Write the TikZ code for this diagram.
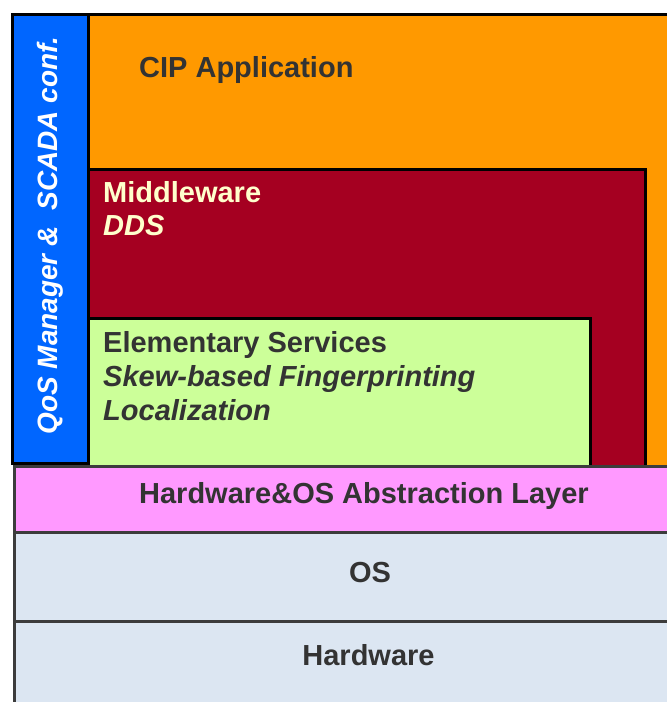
\documentclass[tikz,border=0pt]{standalone}
\usepackage{fontspec}
\setmainfont{Liberation Sans}
\definecolor{qosblue}{HTML}{0066FF}
\definecolor{cipor}{HTML}{FF9900}
\definecolor{mwred}{HTML}{A50021}
\definecolor{esgreen}{HTML}{CCFF99}
\definecolor{halpink}{HTML}{FF99FF}
\definecolor{osgrey}{HTML}{DCE6F2}
\definecolor{txtgrey}{HTML}{333333}
\definecolor{mwtext}{HTML}{FFFFCC}
\definecolor{lowline}{HTML}{3C3C3C}
\tikzset{
  layerbox/.style={draw=black, line width=3pt, anchor=north west, inner sep=0pt},
  lowbox/.style={draw=lowline, line width=3pt, anchor=north west, inner sep=0pt},
  lbl/.style={inner sep=0pt, font=\fontsize{29}{34}\selectfont\bfseries, text=txtgrey},
}
\begin{document}
\begin{tikzpicture}[x=1pt, y=-1pt]
\useasboundingbox (0,0) rectangle (667,702);
\clip (0,0) rectangle (667,702);
% upper stack
\node[layerbox, fill=cipor, minimum width=633pt, minimum height=458pt] (cip) at (87,12.5) {};
\node[layerbox, fill=mwred, minimum width=557pt, minimum height=303pt] (mw) at (87,167.5) {};
\node[layerbox, fill=esgreen, minimum width=502pt, minimum height=153pt] (es) at (87,317) {};
\node[layerbox, fill=qosblue, minimum width=76pt, minimum height=449pt] (qos) at (10.5,12.5) {};
% lower stack
\node[lowbox, fill=halpink, minimum width=708pt, minimum height=66pt] (hal) at (12.5,465) {};
\node[lowbox, fill=osgrey, minimum width=708pt, minimum height=89pt] (os) at (12.5,531) {};
\node[lowbox, fill=osgrey, minimum width=708pt, minimum height=140pt] (hw) at (12.5,620) {};
% labels
\node[lbl, anchor=base west] (cipt) at (139,77) {CIP Application};
\node[lbl, anchor=base west, text=mwtext] (mwt) at (103,202) {Middleware};
\node[lbl, anchor=base west, text=mwtext] (ddst) at (103,235) {\itshape DDS};
\node[lbl, anchor=base west] (est) at (103,352) {Elementary Services};
\node[lbl, anchor=base west] (skt) at (103,386) {\itshape Skew-based Fingerprinting};
\node[lbl, anchor=base west] (loct) at (103,420) {\itshape Localization};
\node[lbl, anchor=base] (halt) at (364,503) {Hardware\&OS Abstraction Layer};
\node[lbl, anchor=base] (ost) at (370,582) {OS};
\node[lbl, anchor=base] (hwt) at (368.5,665) {Hardware};
\node[lbl, anchor=base, rotate=90, text=white, font=\fontsize{28}{34}\selectfont\bfseries\itshape] (qost) at (57,235.5) {QoS Manager \&\ \ SCADA conf.};
\end{tikzpicture}
\end{document}
